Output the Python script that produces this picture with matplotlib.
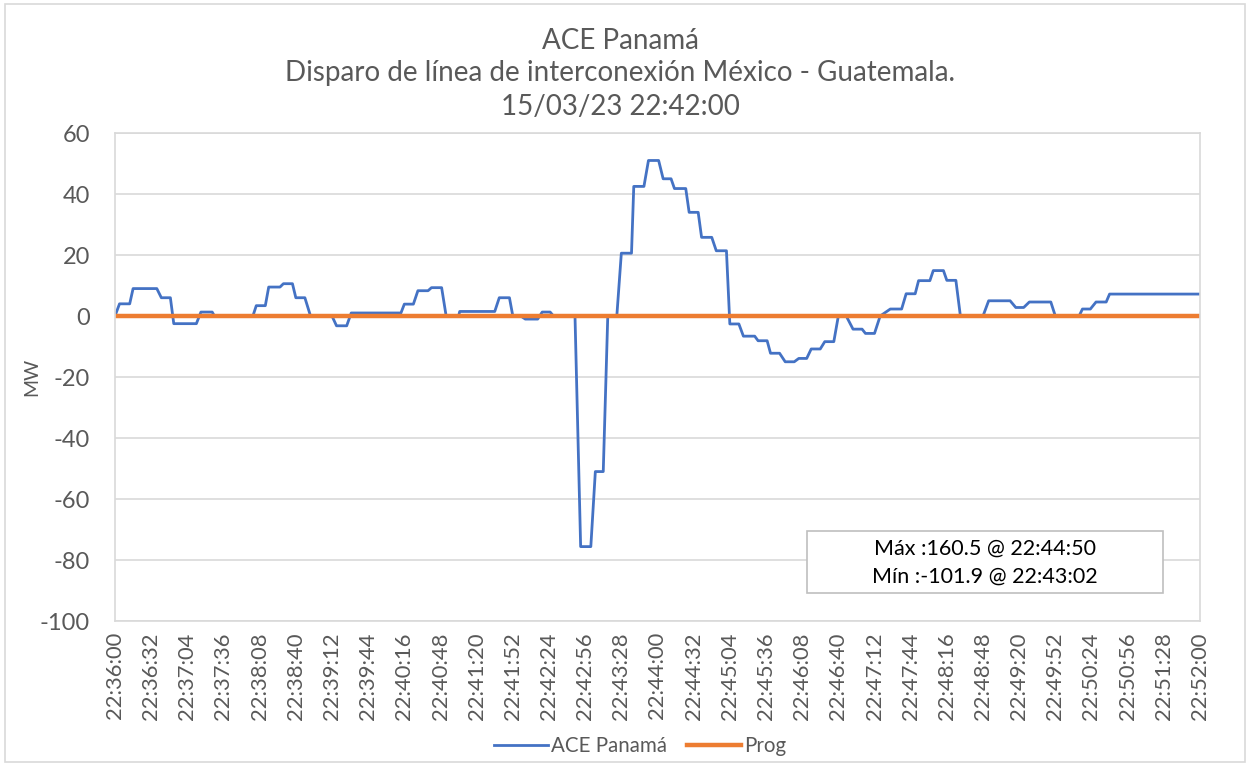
import matplotlib.pyplot as plt
from matplotlib.patches import Rectangle

# ACE Panamá trace, vertices (seconds after 22:36:00, MW)
t_sec = [0, 4, 13, 16, 37, 41, 49, 52, 72, 76, 86, 88, 122, 125, 133, 136, 146,
         149, 157, 160, 168, 173, 192, 196, 205, 209, 253, 256, 264, 268, 277,
         280, 289, 293, 304, 305, 336, 340, 349, 352, 359, 363, 374, 378, 385,
         388, 407, 412, 421, 425, 432, 436, 444, 448, 457, 459, 468, 472, 481,
         485, 492, 495, 505, 508, 516, 519, 528, 532, 541, 544, 552, 556, 566,
         569, 577, 580, 588, 593, 601, 605, 612, 616, 624, 628, 636, 640, 647,
         653, 661, 664, 672, 677, 686, 696, 700, 708, 711, 721, 724, 733, 736,
         744, 748, 768, 773, 792, 797, 804, 809, 828, 832, 853, 856, 863, 868,
         877, 880, 960]
ace = [0, 4, 4, 9, 9, 6, 6, -2.5, -2.5, 1.3, 1.3, 0, 0, 3.4, 3.4, 9.5, 9.5,
       10.6, 10.6, 6, 6, 0, 0, -3.2, -3.2, 1, 1, 3.9, 3.9, 8.3, 8.3,
       9.3, 9.3, 0, 0, 1.5, 1.5, 6, 6, 0, 0, -1, -1, 1.3, 1.3,
       0, 0, -75.6, -75.6, -51, -51, 0, 0, 20.6, 20.6, 42.5, 42.5, 51, 51,
       45, 45, 41.8, 41.8, 34, 34, 25.8, 25.8, 21.4, 21.4, -2.6, -2.6, -6.6, -6.6,
       -8.1, -8.1, -12.2, -12.2, -15, -15, -13.9, -13.9, -10.8, -10.8, -8.4, -8.4, 0, 0,
       -4.3, -4.3, -5.7, -5.7, 0, 2.3, 2.3, 7.3, 7.3, 11.6, 11.6, 14.9, 14.9, 11.7,
       11.7, 0, 0, 5, 5, 2.8, 2.8, 4.6, 4.6, 0, 0, 2.3, 2.3, 4.6,
       4.6, 7.2, 7.2]

# programmed value
prog_t = [0, 960]
prog = [0, 0]

tick_step = 32
start_h, start_m = 22, 36

grey = '#595959'
plt.rcParams['font.family'] = ['Lato', 'DejaVu Sans']
plt.rcParams['axes.unicode_minus'] = False

fig = plt.figure(figsize=(12.5, 7.65), dpi=100)
ax = fig.add_axes([0.092, 0.1882, 0.868, 0.6379])

ax.plot(t_sec, ace, color='#4472C4', lw=2.0, label='ACE Panamá')
ax.plot(prog_t, prog, color='#ED7D31', lw=3.2, label='Prog')

ax.set_xlim(0, 960)
ax.set_ylim(-100, 60)
ax.set_yticks(range(-100, 61, 20))

ticks = list(range(0, 961, tick_step))
labels = []
for s in ticks:
    tot = start_h * 3600 + start_m * 60 + s
    labels.append('%02d:%02d:%02d' % (tot // 3600, tot % 3600 // 60, tot % 60))
ax.set_xticks(ticks)
ax.set_xticklabels(labels, rotation=90)

ax.grid(axis='y', color='#d9d9d9', lw=1.2)
ax.set_axisbelow(True)
for sp in ax.spines.values():
    sp.set_color('#d9d9d9')
    sp.set_linewidth(1.2)
ax.tick_params(axis='both', length=0, colors=grey)
ax.tick_params(axis='y', labelsize=17, pad=18)
ax.tick_params(axis='x', labelsize=15.8, pad=8)
ax.set_ylabel('MW', color=grey, fontsize=14, labelpad=0)

fig.text(0.496, 0.947, 'ACE Panamá', ha='center', va='center', fontsize=20, color=grey)
fig.text(0.496, 0.904, 'Disparo de línea de interconexión México - Guatemala.',
         ha='center', va='center', fontsize=20, color=grey)
fig.text(0.496, 0.860, '15/03/23 22:42:00', ha='center', va='center', fontsize=20, color=grey)

# Max / Min box
fig.patches.append(Rectangle((807 / 1250, 1 - 593 / 765), 356 / 1250, 62 / 765,
                             transform=fig.transFigure, facecolor='white',
                             edgecolor='#bfbfbf', lw=1.2, zorder=5))
fig.text(985 / 1250, 1 - 549 / 765, 'Máx :160.5 @ 22:44:50', ha='center', va='center',
         fontsize=15.5, color='black', zorder=6)
fig.text(985 / 1250, 1 - 577 / 765, 'Mín :-101.9 @ 22:43:02', ha='center', va='center',
         fontsize=15.5, color='black', zorder=6)

fig.legend(loc='center', bbox_to_anchor=(0.512, 1 - 746 / 765), ncol=2, frameon=False,
           fontsize=14.8, labelcolor=grey, handlelength=2.6, handletextpad=0.15,
           columnspacing=1.0)

# chart border
fig.patches.append(Rectangle((5 / 1250, 3 / 765), 1240 / 1250, 758 / 765,
                             transform=fig.transFigure, fill=False,
                             edgecolor='#d9d9d9', lw=1.2))

plt.savefig('out.png')
